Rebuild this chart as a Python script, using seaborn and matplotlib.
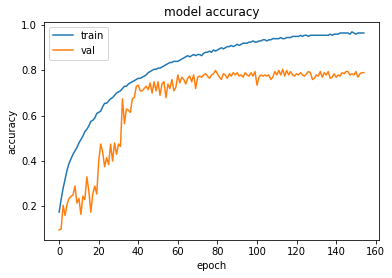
import matplotlib
matplotlib.use("Agg")
import matplotlib.pyplot as plt
import seaborn as sns
import numpy as np
import pandas as pd

# training curves: accuracy per epoch

train_acc = [
    0.175, 0.23, 0.28, 0.32, 0.36, 0.39, 0.41, 0.43, 0.445, 0.46,
    0.48, 0.495, 0.51, 0.53, 0.54, 0.555, 0.575, 0.58, 0.59, 0.61,
    0.615, 0.62, 0.64, 0.655, 0.655, 0.665, 0.675, 0.68, 0.69, 0.70,
    0.705, 0.71, 0.72, 0.73, 0.73, 0.74, 0.745, 0.75, 0.755, 0.76,
    0.765, 0.765, 0.77, 0.775, 0.78, 0.79, 0.795, 0.80, 0.805, 0.805,
    0.81, 0.81, 0.815, 0.82, 0.825, 0.83, 0.835, 0.835, 0.84, 0.84,
    0.84, 0.845, 0.85, 0.855, 0.86, 0.865, 0.86, 0.865, 0.87, 0.865,
    0.87, 0.87, 0.865, 0.875, 0.88, 0.88, 0.885, 0.88, 0.89, 0.885,
    0.89, 0.895, 0.90, 0.895, 0.90, 0.905, 0.905, 0.91, 0.905, 0.91,
    0.915, 0.91, 0.915, 0.92, 0.92, 0.92, 0.925, 0.925, 0.93, 0.925,
    0.925, 0.93, 0.93, 0.935, 0.935, 0.93, 0.935, 0.935, 0.94, 0.94,
    0.94, 0.94, 0.945, 0.94, 0.94, 0.945, 0.945, 0.945, 0.95, 0.95,
    0.95, 0.95, 0.955, 0.95, 0.955, 0.955, 0.95, 0.955, 0.955, 0.955,
    0.955, 0.955, 0.955, 0.955, 0.955, 0.955, 0.955, 0.96, 0.955, 0.96,
    0.96, 0.96, 0.965, 0.965, 0.965, 0.965, 0.965, 0.96, 0.97, 0.965,
    0.96, 0.965, 0.965, 0.965, 0.965,
]

val_acc = [
    0.096, 0.10, 0.205, 0.16, 0.21, 0.235, 0.245, 0.25, 0.29, 0.215,
    0.235, 0.165, 0.245, 0.23, 0.33, 0.27, 0.175, 0.255, 0.29, 0.255,
    0.40, 0.475, 0.44, 0.375, 0.415, 0.385, 0.475, 0.40, 0.48, 0.43,
    0.475, 0.465, 0.675, 0.565, 0.63, 0.625, 0.615, 0.675, 0.68, 0.73,
    0.735, 0.71, 0.71, 0.72, 0.73, 0.715, 0.745, 0.70, 0.75, 0.71,
    0.75, 0.69, 0.74, 0.75, 0.68, 0.74, 0.72, 0.76, 0.71, 0.725,
    0.78, 0.745, 0.77, 0.76, 0.74, 0.765, 0.775, 0.75, 0.78, 0.72,
    0.77, 0.775, 0.77, 0.78, 0.785, 0.775, 0.765, 0.78, 0.785, 0.80,
    0.785, 0.77, 0.76, 0.785, 0.78, 0.765, 0.785, 0.775, 0.79, 0.78,
    0.79, 0.775, 0.78, 0.77, 0.79, 0.78, 0.775, 0.79, 0.775, 0.795,
    0.735, 0.77, 0.78, 0.775, 0.78, 0.775, 0.78, 0.76, 0.77, 0.795,
    0.78, 0.80, 0.78, 0.805, 0.775, 0.80, 0.78, 0.795, 0.78, 0.775,
    0.785, 0.78, 0.79, 0.78, 0.775, 0.785, 0.795, 0.79, 0.76, 0.765,
    0.78, 0.775, 0.795, 0.77, 0.79, 0.78, 0.795, 0.765, 0.77, 0.785,
    0.77, 0.78, 0.775, 0.79, 0.785, 0.795, 0.795, 0.78, 0.785, 0.78,
    0.795, 0.77, 0.785, 0.79, 0.79,
]

series = ["train", "val"]

epochs = np.arange(len(train_acc))
df = pd.DataFrame({
    "epoch": np.concatenate([epochs, epochs]),
    "accuracy": train_acc + val_acc,
    "serie": [series[0]] * len(train_acc) + [series[1]] * len(val_acc),
})

fig = plt.figure(figsize=(392 / 72, 278 / 72), dpi=72)
ax = fig.add_axes([0.112, 0.137, 0.855, 0.784])

sns.lineplot(data=df, x="epoch", y="accuracy", hue="serie",
             palette=["#1f77b4", "#ff7f0e"], linewidth=1.5, ax=ax)

ax.set_title("model accuracy", fontsize=12)
ax.set_xlabel("epoch", fontsize=10)
ax.set_ylabel("accuracy", fontsize=10)
ax.tick_params(labelsize=10)
ax.set_xticks([0, 20, 40, 60, 80, 100, 120, 140, 160])
ax.legend(loc="upper left", fontsize=10)

fig.savefig("out.png", dpi=72)
